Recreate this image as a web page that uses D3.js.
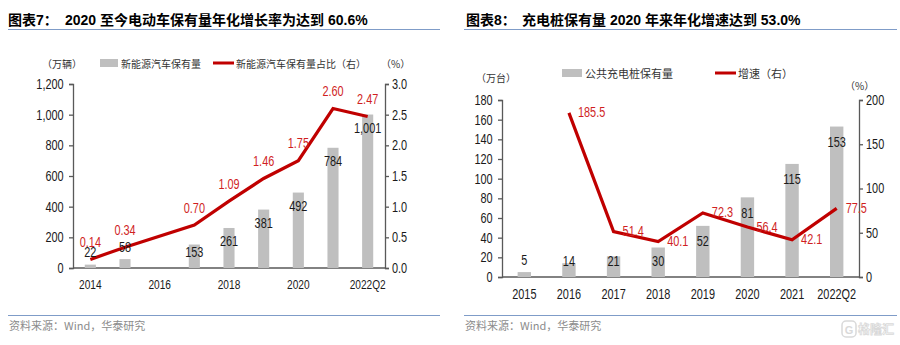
<!DOCTYPE html>
<html><head><meta charset="utf-8">
<script src="https://cdn.jsdelivr.net/npm/d3@7"></script>
<style>
html,body{margin:0;padding:0;background:#fff;}
svg{display:block;}
</style></head>
<body>
<svg id="c" width="900" height="345"></svg>
<script>
// ---------- data ----------
const leftCats = ["2014","2015","2016","2017","2018","2019","2020","2021","2022Q2"];
const leftStock = [22,58,null,153,261,381,492,784,1001];
const leftShare = [0.14,0.34,null,0.70,1.09,1.46,1.75,2.60,2.47];
const leftTickLabels = ["2014","2016","2018","2020","2022Q2"];
const leftYTicks = [0,200,400,600,800,1000,1200];
const leftY2Ticks = [0,0.5,1.0,1.5,2.0,2.5,3.0];

const rightCats = ["2015","2016","2017","2018","2019","2020","2021","2022Q2"];
const rightStock = [5,14,21,30,52,81,115,153];
const rightGrowth = [null,185.5,51.4,40.1,72.3,56.4,42.1,77.5];
const rightTickLabels = rightCats;
const rightYTicks = [0,20,40,60,80,100,120,140,160,180];
const rightY2Ticks = [0,50,100,150,200];

// ---------- styles ----------
const RED = "#C00000", GRAY = "#BFBFBF", AXIS = "#595959";
const NUM = "'Liberation Sans',Arial,sans-serif";
const CJK = "'Noto Sans CJK SC','Liberation Sans',sans-serif";
const TITLE = "'Liberation Sans','Noto Sans CJK SC',sans-serif";
const SX = 0.78; // horizontal compression to mimic a narrow face

const svg = d3.select("#c");

function chart(o){
  const g = svg.append("g");
  // title
  g.append("text").attr("x",o.titleX).attr("y",25).attr("font-family",TITLE)
    .attr("font-weight","bold").attr("font-size",14).attr("fill","#000").text(o.titleA);
  g.append("text").attr("x",o.titleX2).attr("y",25).attr("font-family",TITLE)
    .attr("font-weight","bold").attr("font-size",14).attr("fill","#000").text(o.titleB);
  g.append("line").attr("x1",o.ruleX1).attr("x2",o.ruleX2).attr("y1",29.5).attr("y2",29.5)
    .attr("stroke","#7F9CC8").attr("stroke-width",1.2);
  g.append("line").attr("x1",o.ruleX1).attr("x2",o.ruleX2).attr("y1",315.5).attr("y2",315.5)
    .attr("stroke","#7F9CC8").attr("stroke-width",1.2);
  g.append("text").attr("x",o.ruleX1+1).attr("y",330).attr("font-family",CJK)
    .attr("font-size",11).attr("fill","#8C8C8C").text("资料来源：Wind，华泰研究");

  const x = d3.scaleBand().domain(o.cats).range([o.x0,o.x1]).paddingInner(0).paddingOuter(0);
  const y = d3.scaleLinear().domain([o.yTicks[0],o.yTicks[o.yTicks.length-1]]).range([o.yB,o.yT]);
  const y2 = d3.scaleLinear().domain([o.y2Ticks[0],o.y2Ticks[o.y2Ticks.length-1]]).range([o.yB,o.yT]);
  const bw = x.bandwidth()*o.barFrac;
  const cx = c => x(c)+x.bandwidth()/2;

  // axes
  const ax = g.append("g").attr("transform",`translate(${o.x0},0)`)
    .call(d3.axisLeft(y).tickValues(o.yTicks).tickSize(4).tickPadding(8).tickFormat(o.yFmt));
  const ax2 = g.append("g").attr("transform",`translate(${o.x1},0)`)
    .call(d3.axisRight(y2).tickValues(o.y2Ticks).tickSize(4).tickPadding(5).tickFormat(o.y2Fmt));
  const axx = g.append("g").attr("transform",`translate(0,${o.yB})`)
    .call(d3.axisBottom(x).tickValues(o.tickLabels).tickSize(0).tickPadding(o.xPad));
  [ax,ax2,axx].forEach(a=>{
    a.selectAll("path").attr("stroke",AXIS).attr("stroke-width",1.3);
    a.selectAll("line").attr("stroke",AXIS).attr("stroke-width",1.3);
    a.selectAll("text").attr("font-family",NUM).attr("font-size",o.tickFs).attr("fill","#1a1a1a")
      .attr("transform",`scale(${SX},1)`);
  });
  axx.selectAll("text").attr("font-size",o.xFs);
  axx.select("path").attr("d",`M${o.x0},0H${o.x1}`);

  // bars
  const bd = o.cats.map((c,i)=>({c,v:o.bars[i]})).filter(d=>d.v!=null);
  g.append("g").selectAll("rect").data(bd).join("rect")
    .attr("x",d=>cx(d.c)-bw/2).attr("width",bw)
    .attr("y",d=>y(d.v)).attr("height",d=>o.yB-y(d.v)).attr("fill",GRAY);

  // line
  const ld = o.cats.map((c,i)=>({c,v:o.line[i]})).filter(d=>d.v!=null);
  g.append("path").datum(ld).attr("fill","none").attr("stroke",RED).attr("stroke-width",3.2)
    .attr("d",d3.line().x(d=>cx(d.c)).y(d=>y2(d.v)));

  // bar labels
  g.append("g").selectAll("text").data(bd).join("text")
    .attr("transform",d=>{const t=y(d.v),h=o.yB-t;
      const ly = h<12? t-12 : Math.min(t+o.inOff,o.yB-15);
      return `translate(${cx(d.c)},${ly}) scale(${SX},1)`;})
    .attr("text-anchor","middle").attr("dominant-baseline","central")
    .attr("font-family",NUM).attr("font-size",14).attr("fill","#1a1a1a")
    .text(d=>d3.format(",")(d.v));

  // line labels
  g.append("g").selectAll("text").data(ld).join("text")
    .attr("transform",d=>`translate(${cx(d.c)+o.lblDx},${y2(d.v)+o.lblDy}) scale(${SX},1)`)
    .attr("text-anchor",o.lblAnchor).attr("dominant-baseline","central")
    .attr("font-family",NUM).attr("font-size",14).attr("fill","#D01F1F")
    .text(d=>o.lblFmt(d.v));

  // unit labels + legend
  g.append("text").attr("x",o.unitX).attr("y",o.unitY).attr("dominant-baseline","central")
    .attr("font-family",CJK).attr("font-size",10).attr("fill","#333").text(o.unitL);
  g.append("text").attr("x",o.unit2X).attr("y",o.unit2Y).attr("dominant-baseline","central")
    .attr("font-family",CJK).attr("font-size",10).attr("fill","#333").text("（%）");
  g.append("rect").attr("x",o.legX).attr("y",o.legY-4).attr("width",o.legW).attr("height",8).attr("fill",GRAY);
  g.append("text").attr("x",o.legX+o.legW+3).attr("y",o.legY).attr("dominant-baseline","central")
    .attr("font-family",CJK).attr("font-size",o.legFs).attr("fill","#333").text(o.legA);
  g.append("line").attr("x1",o.leg2X).attr("x2",o.leg2X+21).attr("y1",o.legY).attr("y2",o.legY)
    .attr("stroke",RED).attr("stroke-width",3);
  g.append("text").attr("x",o.leg2X+23).attr("y",o.legY).attr("dominant-baseline","central")
    .attr("font-family",CJK).attr("font-size",o.legFs).attr("fill","#333").text(o.legB);
}

chart({
  titleX:8, titleX2:65, titleA:"图表7：", titleB:"2020 至今电动车保有量年化增长率为达到 60.6%",
  ruleX1:8, ruleX2:440,
  cats:leftCats, bars:leftStock, line:leftShare, tickLabels:leftTickLabels,
  yTicks:leftYTicks, y2Ticks:leftY2Ticks,
  yFmt:d3.format(","), y2Fmt:d3.format(".1f"), tickFs:14, xFs:13,
  x0:73, x1:385, yB:268, yT:84, barFrac:0.32, xPad:12, inOff:14,
  lblDx:0, lblDy:-17, lblAnchor:"middle", lblFmt:d3.format(".2f"),
  unitX:42, unitY:63, unitL:"（万辆）", unit2X:381, unit2Y:63,
  legX:100, legY:63, legW:18, legFs:10, legA:"新能源汽车保有量", leg2X:213, legB:"新能源汽车保有量占比（右）"
});

chart({
  titleX:466, titleX2:522, titleA:"图表8：", titleB:"充电桩保有量 2020 年来年化增速达到 53.0%",
  ruleX1:464, ruleX2:897,
  cats:rightCats, bars:rightStock, line:rightGrowth, tickLabels:rightTickLabels,
  yTicks:rightYTicks, y2Ticks:rightY2Ticks,
  yFmt:d3.format("d"), y2Fmt:d3.format("d"), tickFs:14, xFs:14,
  x0:502, x1:859, yB:277, yT:100, barFrac:0.30, xPad:12, inOff:16,
  lblDx:9, lblDy:0, lblAnchor:"start", lblFmt:d3.format(".1f"),
  unitX:476, unitY:77, unitL:"（万台）", unit2X:845, unit2Y:85,
  legX:562, legY:73, legW:20, legFs:11, legA:"公共充电桩保有量", leg2X:715, legB:"增速（右）"
});

// watermark
const wm = svg.append("g").attr("opacity",0.55);
wm.append("rect").attr("x",842).attr("y",321).attr("width",14).attr("height",16).attr("rx",4)
  .attr("fill","none").attr("stroke","#BBBBBB").attr("stroke-width",1.5);
wm.append("text").attr("x",849).attr("y",333.5).attr("text-anchor","middle").attr("font-family",TITLE)
  .attr("font-weight","bold").attr("font-size",11).attr("fill","#BBBBBB").text("G");
wm.append("text").attr("x",858).attr("y",334).attr("font-family",CJK).attr("font-weight","bold")
  .attr("font-size",12).attr("fill","#fff").attr("stroke","#BBBBBB").attr("stroke-width",0.8).text("格隆汇");
</script>
</body></html>
